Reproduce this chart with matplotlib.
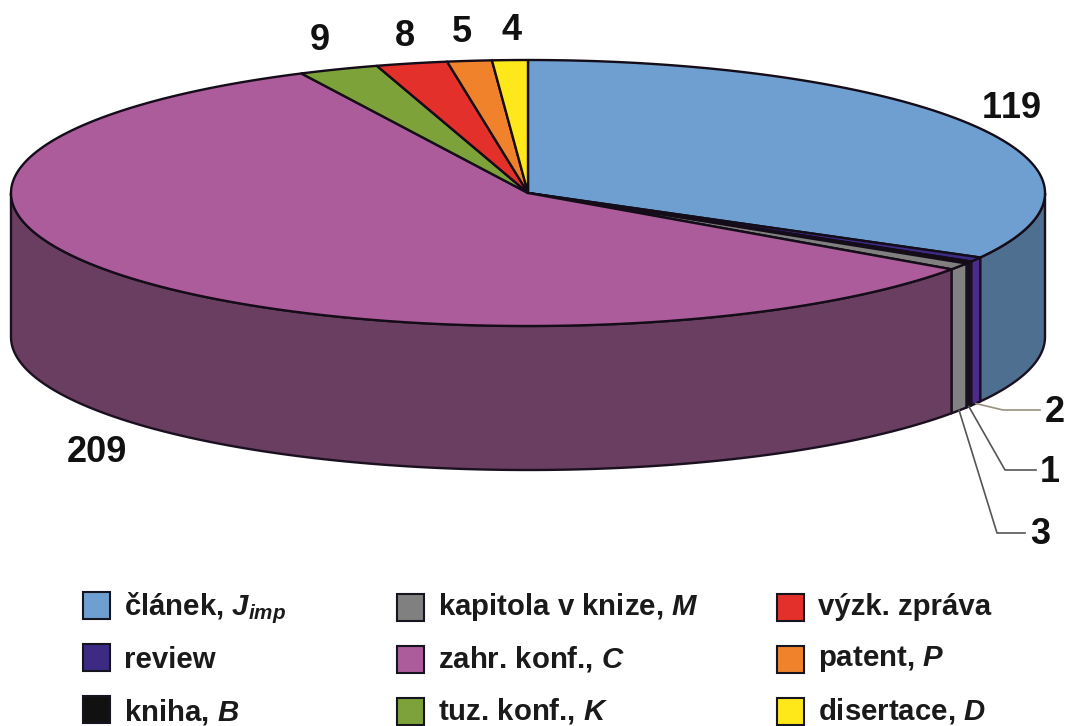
#!/usr/bin/env python3
import numpy as np
from matplotlib import pyplot as plt
from matplotlib.patches import Polygon, Rectangle

plt.rcParams['font.family'] = ['Liberation Sans', 'DejaVu Sans']
plt.rcParams['mathtext.fontset'] = 'custom'
plt.rcParams['mathtext.it'] = 'Liberation Sans:italic:bold'
plt.rcParams['mathtext.rm'] = 'Liberation Sans:bold'
plt.rcParams['text.kerning_factor'] = 6

values = [119, 2, 1, 3, 209, 9, 8, 5, 4]
names = ['článek, $J_{imp}$', 'review', 'kniha, $B$',
         'kapitola v knize, $M$', 'zahr. konf., $C$', 'tuz. konf., $K$',
         'výzk. zpráva', 'patent, $P$', 'disertace, $D$']
top_colors = ['#6F9FD0', '#3D2A85', '#111111', '#808080', '#AC5C9A',
              '#7DA23A', '#E4302B', '#F0822C', '#FFE81A']
side_colors = ['#4F6F90', '#4B2C8C', '#15111C', '#828282', '#6A3E60',
               '#5A7530', '#A02020', '#B06020', '#B0A010']

# pie geometry in pixels
cx, cy = 528, 193
rx, ry = 517, 133
depth = 144


def rim(a):
    a = np.radians(a)
    return cx + rx * np.sin(a), cy - ry * np.cos(a)


fig = plt.figure(figsize=(10.67, 7.26), dpi=100)
ax = fig.add_axes([0, 0, 1, 1])
ax.set_xlim(0, 1067)
ax.set_ylim(726, 0)
ax.axis('off')

edges = np.concatenate([[0], np.cumsum(values)])

# side wall first, only the front half is visible
for i in range(len(values)):
    a0 = max(edges[i], 90)
    a1 = min(edges[i + 1], 270)
    if a1 <= a0:
        continue
    t = np.linspace(a0, a1, 200)
    x, y = rim(t)
    pts = np.column_stack([np.r_[x, x[::-1]], np.r_[y, y[::-1] + depth]])
    ax.add_patch(Polygon(pts, closed=True, fc=side_colors[i], ec='#1a1020', lw=1.7, joinstyle='round'))

# top face
for i in range(len(values)):
    t = np.linspace(edges[i], edges[i + 1], max(int(values[i]) * 4, 4))
    x, y = rim(t)
    pts = np.column_stack([np.r_[cx, x], np.r_[cy, y]])
    ax.add_patch(Polygon(pts, closed=True, fc=top_colors[i], ec='#140c18', lw=1.7, joinstyle='round'))

# value labels
label_pos = [(1012, 108), (1055, 413), (1050, 473), (1040, 535),
             (97, 453), (320, 40), (405, 36), (462, 33), (512, 30)]
for v, (lx, ly) in zip(values, label_pos):
    ax.text(lx, ly, str(v), fontsize=26, fontweight='bold', color='#111111', ha='center', va='center')

# leader lines for the thin slices
leaders = [(1, [(1040, 410), (1003, 410)], '#9a9080'),
           (2, [(1036, 470), (1005, 470)], '#555555'),
           (3, [(1025, 533), (997, 533)], '#555555')]
for i, pts, col in leaders:
    sx, sy = rim((edges[i] + edges[i + 1]) / 2)
    sy += depth
    xs = [pts[0][0], pts[1][0], sx]
    ys = [pts[0][1], pts[1][1], sy]
    ax.plot(xs, ys, color=col, lw=1.2)

# legend, three columns of three
col_x = [83, 397, 777]
row_y = [605, 657, 709]
for i, name in enumerate(names):
    bx = col_x[i // 3]
    by = row_y[i % 3] + (2 if i // 3 > 0 else 0)
    ax.add_patch(Rectangle((bx, by - 13), 27, 27, fc=top_colors[i], ec='#15151f', lw=1.5))
    ax.text(bx + 41, by + (3 if i // 3 == 0 else 0), name, fontsize=21.2, fontweight='bold', color='#1a1a1a', ha='left', va='center')

fig.savefig('out.png', dpi=100)
